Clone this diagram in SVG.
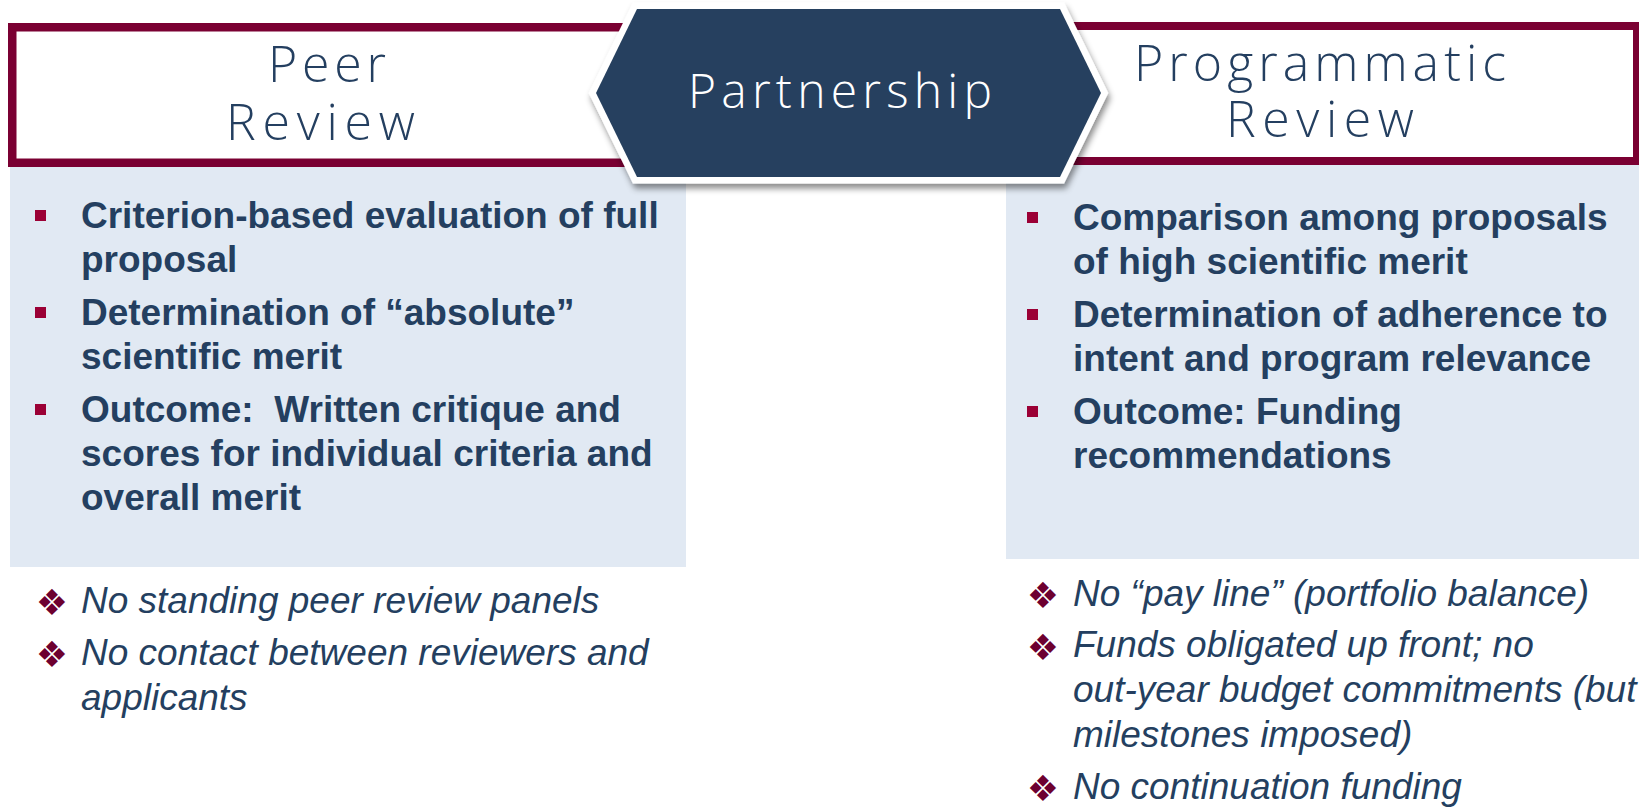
<svg xmlns="http://www.w3.org/2000/svg" width="1639" height="809" viewBox="0 0 1639 809">
  <style>
    .box { fill: #ffffff; stroke: #7a0032; }
    .panel { fill: #e1e9f3; }
    .head { font-family: "Open Sans", "Lato", "Liberation Sans", sans-serif; font-weight: 300; font-size: 50px; fill: #243f60; }
    .hextxt { font-family: "Open Sans", "Lato", "Liberation Sans", sans-serif; font-weight: 300; font-size: 48px; fill: #ffffff; }
    .pt { font-family: "Liberation Sans", Arial, sans-serif; font-weight: bold; font-size: 37px; fill: #243f60; white-space: pre; }
    .note { font-family: "Liberation Sans", Arial, sans-serif; font-style: italic; font-size: 37px; fill: #243f60; }
    .sq { fill: #9b0035; }
    .dia { font-family: "DejaVu Sans", sans-serif; font-size: 36px; fill: #6d0030; }
  </style>
  <defs>
    <filter id="shadow" x="-10%" y="-20%" width="120%" height="150%">
      <feDropShadow dx="2" dy="5" stdDeviation="3" flood-color="#000000" flood-opacity="0.45"/>
    </filter>
  </defs>

  <rect width="1639" height="809" fill="#ffffff"/>

  <g id="peer-panel">
    <rect class="panel" x="10" y="166" width="676" height="401"/>
    <rect class="sq" x="35" y="210" width="11" height="11"/>
    <rect class="sq" x="35" y="307" width="11" height="11"/>
    <rect class="sq" x="35" y="404" width="11" height="11"/>
    <text class="pt" x="81" y="228">Criterion-based evaluation of full</text>
    <text class="pt" x="81" y="272">proposal</text>
    <text class="pt" x="81" y="325">Determination of “absolute”</text>
    <text class="pt" x="81" y="369">scientific merit</text>
    <text class="pt" x="81" y="422">Outcome:  Written critique and</text>
    <text class="pt" x="81" y="466">scores for individual criteria and</text>
    <text class="pt" x="81" y="510">overall merit</text>
  </g>

  <g id="programmatic-panel">
    <rect class="panel" x="1006" y="164" width="633" height="395"/>
    <rect class="sq" x="1027" y="212" width="11" height="11"/>
    <rect class="sq" x="1027" y="309" width="11" height="11"/>
    <rect class="sq" x="1027" y="406" width="11" height="11"/>
    <text class="pt" x="1073" y="230">Comparison among proposals</text>
    <text class="pt" x="1073" y="274">of high scientific merit</text>
    <text class="pt" x="1073" y="327">Determination of adherence to</text>
    <text class="pt" x="1073" y="371">intent and program relevance</text>
    <text class="pt" x="1073" y="424">Outcome: Funding</text>
    <text class="pt" x="1073" y="468">recommendations</text>
  </g>

  <g id="peer-notes">
    <text class="dia" x="52" y="615" text-anchor="middle">❖</text>
    <text class="dia" x="52" y="667" text-anchor="middle">❖</text>
    <text class="note" x="81" y="613">No standing peer review panels</text>
    <text class="note" x="81" y="665">No contact between reviewers and</text>
    <text class="note" x="81" y="710">applicants</text>
  </g>

  <g id="programmatic-notes">
    <text class="dia" x="1043" y="608" text-anchor="middle">❖</text>
    <text class="dia" x="1043" y="660" text-anchor="middle">❖</text>
    <text class="dia" x="1043" y="801" text-anchor="middle">❖</text>
    <text class="note" x="1073" y="606">No “pay line” (portfolio balance)</text>
    <text class="note" x="1073" y="657">Funds obligated up front; no</text>
    <text class="note" x="1073" y="702">out-year budget commitments (but</text>
    <text class="note" x="1073" y="747">milestones imposed)</text>
    <text class="note" x="1073" y="799">No continuation funding</text>
  </g>

  <g id="peer-review">
    <rect class="box" x="12.25" y="27.25" width="700" height="135.5" stroke-width="8.5"/>
    <text class="head" x="268" y="82" textLength="118" lengthAdjust="spacing">Peer</text>
    <text class="head" x="226" y="140" textLength="189" lengthAdjust="spacing">Review</text>
  </g>

  <g id="programmatic-review">
    <rect class="box" x="980" y="26" width="657" height="135" stroke-width="8"/>
    <text class="head" x="1134" y="81" textLength="372" lengthAdjust="spacing">Programmatic</text>
    <text class="head" x="1226" y="137" textLength="188" lengthAdjust="spacing">Review</text>
  </g>

  <g id="connectors"></g>

  <g id="partnership">
    <polygon points="637,9 1060,9 1101,93 1060,177 637,177 596,93" fill="#27405f" stroke="#ffffff" stroke-width="13" stroke-linejoin="miter" paint-order="stroke" filter="url(#shadow)"/>
    <text class="hextxt" x="688" y="108" textLength="304" lengthAdjust="spacing">Partnership</text>
  </g>
</svg>
